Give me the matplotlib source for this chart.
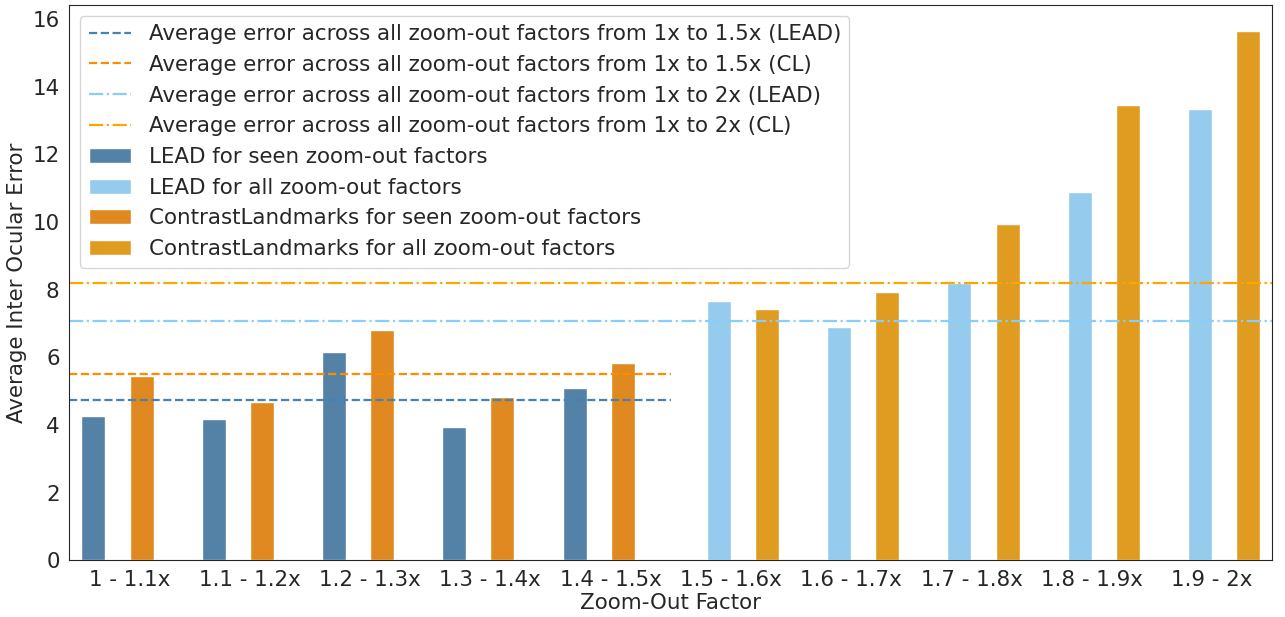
import numpy as np
import matplotlib
matplotlib.use("Agg")
import matplotlib.pyplot as plt
import seaborn as sns

sns.set_style("white")
plt.rcParams['font.family'] = ['DejaVu Sans']

factors = ["1 - 1.1x", "1.1 - 1.2x", "1.2 - 1.3x", "1.3 - 1.4x", "1.4 - 1.5x",
           "1.5 - 1.6x", "1.6 - 1.7x", "1.7 - 1.8x", "1.8 - 1.9x", "1.9 - 2x"]
lead_err = [4.27, 4.18, 6.16, 3.94, 5.10, 7.67, 6.90, 8.21, 10.90, 13.33]
cl_err = [5.45, 4.68, 6.81, 4.83, 5.84, 7.44, 7.94, 9.93, 13.45, 15.64]
n_seen = 5  # zoom-out factors seen during training (1x to 1.5x)

lead_err = np.array(lead_err)
cl_err = np.array(cl_err)

# hue-style dodge: 4 levels over a 0.8 wide slot
width = 0.2
offsets = {"lead_seen": -0.3, "lead_all": -0.1, "cl_seen": 0.1, "cl_all": 0.3}
colors = {
    "lead_seen": sns.desaturate("steelblue", 0.75),
    "lead_all": sns.desaturate("lightskyblue", 0.75),
    "cl_seen": sns.desaturate("darkorange", 0.75),
    "cl_all": sns.desaturate("orange", 0.75),
}
fs = 15.4

x = np.arange(len(factors))
seen = x < n_seen

fig, ax = plt.subplots(figsize=(12.85, 6.17), dpi=100)
fig.subplots_adjust(left=0.054, right=0.99, top=0.992, bottom=0.092)

ax.bar(x[seen] + offsets["lead_seen"], lead_err[seen], width,
       color=colors["lead_seen"], label="LEAD for seen zoom-out factors")
ax.bar(x[~seen] + offsets["lead_all"], lead_err[~seen], width,
       color=colors["lead_all"], label="LEAD for all zoom-out factors")
ax.bar(x[seen] + offsets["cl_seen"], cl_err[seen], width,
       color=colors["cl_seen"], label="ContrastLandmarks for seen zoom-out factors")
ax.bar(x[~seen] + offsets["cl_all"], cl_err[~seen], width,
       color=colors["cl_all"], label="ContrastLandmarks for all zoom-out factors")

# average error lines
ax.axhline(lead_err[seen].mean(), xmax=0.5, color="steelblue", ls="--", lw=1.6,
           label="Average error across all zoom-out factors from 1x to 1.5x (LEAD)")
ax.axhline(cl_err[seen].mean(), xmax=0.5, color="darkorange", ls="--", lw=1.6,
           label="Average error across all zoom-out factors from 1x to 1.5x (CL)")
ax.axhline(lead_err.mean(), color="lightskyblue", ls="-.", lw=1.6,
           label="Average error across all zoom-out factors from 1x to 2x (LEAD)")
ax.axhline(cl_err.mean(), color="orange", ls="-.", lw=1.6,
           label="Average error across all zoom-out factors from 1x to 2x (CL)")

ax.set_xlim(-0.5, len(factors) - 0.5)
ax.set_ylim(0, cl_err.max() * 1.05)
ax.set_xticks(x)
ax.set_xticklabels(factors)
ax.tick_params(labelsize=fs)
ax.set_xlabel("Zoom-Out Factor", fontsize=fs, labelpad=2)
ax.set_ylabel("Average Inter Ocular Error", fontsize=fs)
ax.legend(loc="upper left", fontsize=fs)

fig.savefig("out.png", dpi=100)
